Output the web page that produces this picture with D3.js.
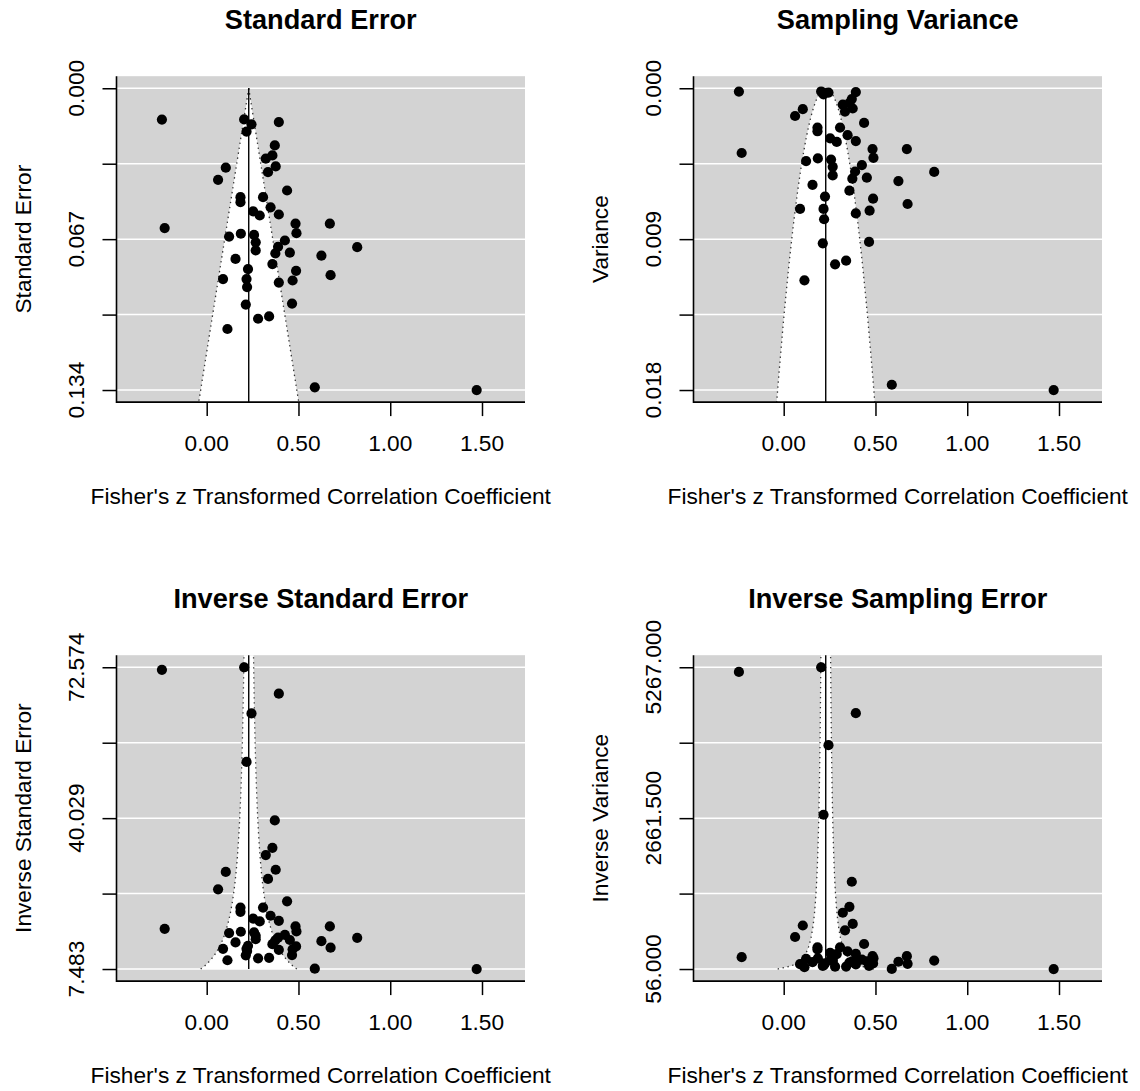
<!DOCTYPE html>
<html lang="en">
<head>
<meta charset="UTF-8">
<title>Funnel Plots</title>
<script src="https://d3js.org/d3.v7.min.js"></script>
<style>
  body { margin: 0; background: #fff; }
  svg { display: block; font-family: "Liberation Sans", Arial, sans-serif; }
</style>
</head>
<body>
<div id="chart"></div>
<script>
// Fisher's z of every study
const yi = [-0.244, 0.204, 0.244, 0.217, 0.393, 0.371, 0.358, 0.322, 0.376, 0.334,
            0.104, 0.062, 0.438, 0.184, 0.184, 0.307, 0.348, 0.253, 0.289, 0.393,
            0.484, 0.489, 0.671, -0.229, 0.122, 0.186, 0.258, 0.267, 0.267, 0.426,
            0.389, 0.374, 0.453, 0.358, 0.820, 0.625, 0.157, 0.225, 0.487, 0.675,
            0.089, 0.217, 0.220, 0.393, 0.468, 0.213, 0.465, 0.280, 0.340, 0.113,
            0.589, 1.471];
// sample sizes, sampling variance of z = 1 / (n - 3)
const ni = [5190, 5270, 3924, 2723, 4477, 1566, 1134, 1031, 838, 728,
            811, 612, 491, 433, 396, 433, 363, 340, 318, 323,
            281, 246, 281, 264, 235, 244, 240, 218, 197, 223,
            206, 190, 192, 168, 205, 185, 178, 159, 156, 149,
            143, 143, 132, 138, 141, 112, 113, 99, 101, 91,
            60, 59];
const estimate = 0.229;
const xTicks = [0, 0.5, 1, 1.5];
const panelTitles = ["Standard Error", "Sampling Variance", "Inverse Standard Error", "Inverse Sampling Error"];
const yLabels = ["Standard Error", "Variance", "Inverse Standard Error", "Inverse Variance"];
const xLabel = "Fisher's z Transformed Correlation Coefficient";

const vi = ni.map(n => 1 / (n - 3));
const sei = vi.map(v => Math.sqrt(v));

const panels = [
    { y: sei,                     inverted: true,  half: s => 1.96 * s },
    { y: vi,                      inverted: true,  half: v => 1.96 * Math.sqrt(v) },
    { y: sei.map(s => 1 / s),     inverted: false, half: w => 1.96 / w },
    { y: vi.map(v => 1 / v),      inverted: false, half: w => 1.96 / Math.sqrt(w) }
];

const width = 1140, height = 1091;
const plotW = 408.5, plotH = 325.9;
const origins = [[116.5, 76.2], [693.5, 76.2], [116.5, 655.2], [693.5, 655.2]];

const svg = d3.select("#chart")
              .append("svg")
              .attr("width", width)
              .attr("height", height);

panels.forEach((p, i) => drawPanel(p, i));

function drawPanel(p, i) {
    const [ox, oy] = origins[i];
    const g = svg.append("g").attr("transform", `translate(${ox},${oy})`);

    const x = d3.scaleLinear().domain([-0.4915, 1.7343]).range([0, plotW]);

    // y range: 0..max for se / variance, min..max for the inverse ones
    const lo = p.inverted ? 0 : d3.min(p.y);
    const hi = d3.max(p.y);
    const pad = (hi - lo) * 0.04;
    const y = d3.scaleLinear()
                .domain([lo - pad, hi + pad])
                .range(p.inverted ? [0, plotH] : [plotH, 0]);
    const far = hi + pad;
    const yTicks = d3.range(5).map(k => lo + (hi - lo) * k / 4);

    g.append("rect")
     .attr("width", plotW)
     .attr("height", plotH)
     .attr("fill", "#d3d3d3");

    // funnel region
    const steps = d3.range(101).map(k => lo + (far - lo) * k / 100);
    const leftEdge = steps.map(v => [x(estimate - p.half(v)), y(v)]);
    const rightEdge = steps.map(v => [x(estimate + p.half(v)), y(v)]);
    g.append("path")
     .attr("d", d3.line()(leftEdge.concat(rightEdge.slice().reverse())) + "Z")
     .attr("fill", "white");

    g.selectAll(".grid")
     .data(yTicks)
     .enter()
     .append("line")
     .attr("x1", 0)
     .attr("x2", plotW)
     .attr("y1", d => y(d))
     .attr("y2", d => y(d))
     .attr("stroke", "white")
     .attr("stroke-width", 1.5);

    [leftEdge, rightEdge].forEach(edge => {
        g.append("path")
         .attr("d", d3.line()(edge))
         .attr("fill", "none")
         .attr("stroke", "#333")
         .attr("stroke-width", 1.3)
         .attr("stroke-dasharray", "1.4,3.6");
    });

    g.append("line")
     .attr("x1", x(estimate))
     .attr("x2", x(estimate))
     .attr("y1", y(lo))
     .attr("y2", y(far))
     .attr("stroke", "black")
     .attr("stroke-width", 1.4);

    g.selectAll(".pt")
     .data(yi.map((d, k) => [d, p.y[k]]))
     .enter()
     .append("circle")
     .attr("cx", d => x(d[0]))
     .attr("cy", d => y(d[1]))
     .attr("r", 5.1)
     .attr("fill", "black");

    // axes, drawn as an L like R's bty = "l"
    const yAxis = g.append("g")
                   .call(d3.axisLeft(y).tickValues(yTicks).tickSize(14).tickFormat(""));
    yAxis.select(".domain").remove();
    const xAxis = g.append("g")
                   .attr("transform", `translate(0,${plotH})`)
                   .call(d3.axisBottom(x).tickValues(xTicks).tickSize(14).tickFormat(""));
    xAxis.select(".domain").remove();
    g.selectAll(".tick line").attr("stroke", "black").attr("stroke-width", 1.5);

    g.append("path")
     .attr("d", `M0,0V${plotH}H${plotW}`)
     .attr("fill", "none")
     .attr("stroke", "black")
     .attr("stroke-width", 1.6);

    g.selectAll(".ylab")
     .data(yTicks.filter((d, k) => k % 2 === 0))
     .enter()
     .append("text")
     .attr("transform", d => `translate(-33,${y(d)}) rotate(-90)`)
     .attr("text-anchor", "middle")
     .attr("font-size", "22.7px")
     .text(d => d3.format(".3f")(d));

    g.selectAll(".xlab")
     .data(xTicks)
     .enter()
     .append("text")
     .attr("x", d => x(d))
     .attr("y", plotH + 49)
     .attr("text-anchor", "middle")
     .attr("font-size", "22.7px")
     .text(d => d3.format(".2f")(d));

    g.append("text")
     .attr("x", plotW / 2)
     .attr("y", plotH + 102)
     .attr("text-anchor", "middle")
     .attr("font-size", "22.7px")
     .text(xLabel);

    g.append("text")
     .attr("transform", `translate(-86,${plotH / 2}) rotate(-90)`)
     .attr("text-anchor", "middle")
     .attr("font-size", "22.7px")
     .text(yLabels[i]);

    g.append("text")
     .attr("x", plotW / 2)
     .attr("y", -47)
     .attr("text-anchor", "middle")
     .attr("font-size", "27.2px")
     .attr("font-weight", "bold")
     .text(panelTitles[i]);
}
</script>
</body>
</html>
